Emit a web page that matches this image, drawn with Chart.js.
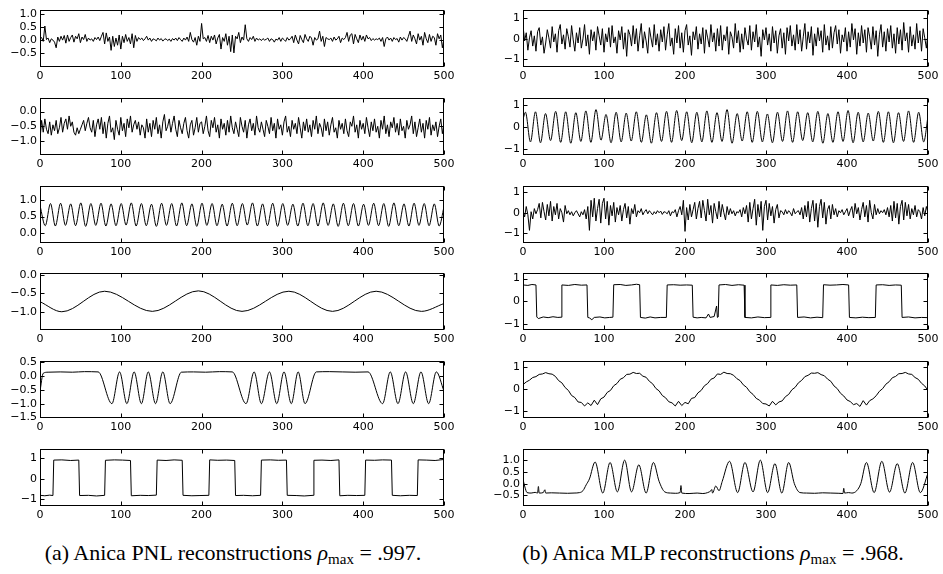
<!DOCTYPE html>
<html><head><meta charset="utf-8">
<script src="https://cdn.jsdelivr.net/npm/chart.js@4.4.1/dist/chart.umd.min.js"></script>
<style>
html,body{margin:0;padding:0;background:#fff;}
body{width:943px;height:574px;overflow:hidden;position:relative;}
canvas{position:absolute;}
.cap{position:absolute;top:540px;font-family:"Liberation Serif","Times New Roman","DejaVu Serif",serif;font-size:22px;white-space:nowrap;color:#000;transform:translateX(-50%);}
.cap sub{font-size:15px;vertical-align:-4px;line-height:0;}
</style></head><body>
<div class="cap" style="left:233px">(a) Anica PNL reconstructions <i>ρ</i><sub>max</sub> = .997.</div>
<div class="cap" style="left:713px">(b) Anica MLP reconstructions <i>ρ</i><sub>max</sub> = .968.</div>
<script>
// ---------- data (x from 0 to 500) ----------
const xTicks = [0, 100, 200, 300, 400, 500];

// Left column (a)
const l1 = [0.05,0.10,-0.05,0.55,0.02,0.08,-0.10,0.05,0.00,-0.08,
-0.30,0.12,-0.05,0.15,0.00,0.18,-0.12,0.20,-0.05,0.10,
0.20,-0.08,0.15,0.05,0.25,-0.10,0.12,0.02,0.22,-0.05,
0.08,0.00,0.05,-0.05,0.10,0.02,0.12,-0.02,0.15,0.30,
-0.15,0.28,-0.05,0.12,-0.40,0.15,-0.25,0.08,-0.20,0.20,
-0.35,0.15,-0.10,0.22,-0.05,0.10,-0.15,0.25,-0.30,0.18,
-0.05,0.10,0.02,0.08,-0.02,0.05,0.15,0.00,0.08,-0.05,
0.05,0.02,-0.03,0.08,0.00,0.06,-0.04,0.03,0.05,-0.02,
0.04,-0.05,0.06,0.00,0.08,-0.02,0.10,0.02,-0.05,0.08,
0.00,0.12,-0.05,0.30,0.02,-0.08,0.10,-0.20,0.15,-0.05,
0.65,0.05,0.10,-0.05,0.18,-0.10,0.15,0.00,0.20,-0.15,
0.08,0.22,-0.35,0.10,-0.05,0.25,-0.20,0.15,-0.45,0.20,
-0.50,0.15,0.05,0.30,-0.10,0.12,0.00,0.60,0.05,-0.05,
0.10,0.02,0.15,-0.05,0.08,0.00,0.05,-0.02,0.06,0.00,
0.03,0.08,-0.05,0.05,0.02,-0.08,0.04,0.00,0.10,-0.05,
0.08,0.02,-0.05,0.10,0.00,0.05,0.15,-0.10,0.20,0.00,
-0.15,0.18,0.02,-0.10,0.22,0.05,-0.05,0.15,0.08,-0.20,
0.10,0.00,0.05,0.35,-0.05,0.15,-0.25,0.10,0.05,0.02,
0.08,-0.05,0.12,0.00,0.05,0.15,-0.10,0.08,0.02,0.10,
0.30,-0.05,0.20,0.25,-0.15,0.22,0.05,-0.10,0.20,0.00,
0.15,-0.05,0.20,0.05,0.10,-0.02,0.06,0.00,0.05,0.02,
0.08,-0.05,0.10,-0.25,0.05,0.12,0.00,0.08,-0.05,0.10,
0.02,0.06,-0.08,0.12,0.00,0.10,0.05,-0.05,0.15,0.35,
-0.05,0.20,0.05,-0.15,0.25,0.00,0.15,-0.20,0.30,0.05,
-0.10,0.22,-0.05,0.15,0.10,-0.20,0.25,0.05,0.20,-0.30,
0.05];

const l2 = [-0.95,-0.30,-0.70,-0.25,-0.60,-0.75,-0.35,-0.80,-0.45,-0.65,
-0.30,-0.75,-0.55,-0.20,-0.70,-0.40,-0.25,-0.60,-0.15,-0.50,
-0.35,-0.70,-0.80,-0.55,-0.75,-0.60,-0.45,-0.30,-0.65,-0.40,
-0.20,-0.55,-0.70,-0.30,-0.85,-0.45,-0.25,-0.60,-0.20,-0.75,
-0.35,-0.90,-0.40,-0.15,-0.70,-0.55,-0.95,-0.30,-0.60,-0.80,
-0.20,-0.65,-0.40,-0.85,-0.25,-0.55,-0.15,-0.70,-0.45,-0.30,
-0.60,-0.35,-0.80,-0.45,-0.55,-0.90,-0.25,-0.70,-0.40,-0.85,
-0.30,-0.60,-0.20,-0.75,-0.45,-0.90,-0.35,-0.10,-0.65,-0.50,
-0.25,-0.70,-0.40,-0.15,-0.60,-0.85,-0.30,-0.55,-0.75,-0.40,
-0.20,-0.65,-0.90,-0.45,-0.30,-0.80,-0.55,-0.20,-0.70,-0.40,
-0.35,-0.75,-0.50,-0.15,-0.65,-0.85,-0.30,-0.55,-0.20,-0.70,
-0.45,-0.90,-0.25,-0.60,-0.40,-0.80,-0.30,-0.70,-0.15,-0.55,
-0.75,-0.35,-0.60,-0.85,-0.20,-0.50,-0.70,-0.30,-0.90,-0.45,
-0.25,-0.65,-0.40,-0.80,-0.15,-0.55,-0.70,-0.35,-0.60,-0.85,
-0.30,-0.50,-0.75,-0.20,-0.65,-0.40,-0.90,-0.25,-0.60,-0.45,
-0.80,-0.35,-0.15,-0.70,-0.50,-0.85,-0.30,-0.60,-0.40,-0.75,
-0.20,-0.55,-0.90,-0.35,-0.65,-0.25,-0.70,-0.45,-0.85,-0.30,
-0.60,-0.15,-0.75,-0.40,-0.55,-0.85,-0.25,-0.65,-0.35,-0.80,
-0.45,-0.20,-0.70,-0.55,-0.90,-0.30,-0.60,-0.40,-0.75,-0.25,
-0.65,-0.85,-0.35,-0.50,-0.15,-0.70,-0.45,-0.90,-0.30,-0.60,
-0.40,-0.75,-0.20,-0.55,-0.85,-0.35,-0.65,-0.25,-0.70,-0.50,
-0.90,-0.30,-0.60,-0.15,-0.75,-0.45,-0.85,-0.35,-0.55,-0.20,
-0.70,-0.40,-0.80,-0.25,-0.65,-0.50,-0.90,-0.30,-0.60,-0.45,
-0.15,-0.75,-0.35,-0.85,-0.55,-0.25,-0.70,-0.40,-0.90,-0.30,
-0.60,-0.20,-0.80,-0.45,-0.65,-0.35,-0.85,-0.50,-0.25,-0.75,
-0.40];

const l3X = [0,6.5,13,19,25.5,31.5,38,44,50.5,56.5,63,69,75.5,81.5,88,94,100.5,106.5,113,119,
125.5,131.5,138,144,150.5,156.5,163,169,175.5,181.5,188,194,200.5,206.5,213,219,225.5,231.5,238,244,
250.5,256.5,263,269,275.5,281.5,288,294,300.5,306.5,313,319,325.5,331.5,338,344,350.5,356.5,363,369,
375.5,381.5,388,394,400.5,406.5,413,419,425.5,431.5,438,444,450.5,456.5,463,469,475.5,481.5,488,494,500];
const l3Y = [0.84,0.22,0.90,0.21,0.91,0.23,0.89,0.22,0.92,0.20,0.90,0.23,0.91,0.21,0.89,0.22,0.90,0.24,0.92,0.21,
0.90,0.22,0.88,0.20,0.91,0.23,0.90,0.21,0.92,0.22,0.89,0.20,0.91,0.23,0.90,0.22,0.88,0.21,0.91,0.22,
0.90,0.24,0.92,0.21,0.89,0.22,0.91,0.20,0.90,0.23,0.88,0.21,0.91,0.22,0.90,0.21,0.92,0.23,0.89,0.20,
0.91,0.22,0.90,0.21,0.88,0.23,0.91,0.22,0.90,0.20,0.92,0.22,0.89,0.21,0.91,0.23,0.90,0.22,0.89,0.21,0.80];

const l4X = [0,27,80,139,196,250,308,362,416,472,500];
const l4Y = [-0.72,-0.99,-0.44,-0.98,-0.43,-0.98,-0.44,-0.98,-0.44,-0.98,-0.77];

const l5X = [0,4,10,25,40,55,72,89,98.5,107.5,116.5,125.5,134,143,152,161,175,190,205,222,238,
255,265,274,284,293,302,311,319.5,328,342,358,374,390,406,424,433.5,443,452.5,462,471.5,481,490.5,500];
const l5Y = [-0.55,0.10,0.14,0.15,0.14,0.16,0.15,-1.00,0.15,-1.00,0.15,-1.00,0.15,-1.00,0.15,-1.00,0.14,0.15,0.14,0.16,0.15,
-1.00,0.15,-1.00,0.15,-1.00,0.15,-1.00,0.15,-1.00,0.15,0.16,0.15,0.14,0.15,-1.00,0.15,-1.00,0.15,-1.00,0.15,-1.00,0.15,-0.55];

const l6X = [0,6,12,16, 17,27,38,48, 49,60,70,80, 81,92,102,112, 113,124,134,144, 145,156,166,176, 177,188,198,209, 210,220,231,241,
242,252,263,273, 274,285,295,305, 306,317,327,338, 339,349,360,370, 371,381,392,402, 403,414,424,435, 436,446,457,467, 468,478,489,500];
const l6Y = [-0.80,-0.82,-0.79,-0.81, 0.92,0.93,0.90,0.92, -0.81,-0.80,-0.83,-0.80, 0.91,0.93,0.92,0.90, -0.82,-0.80,-0.81,-0.79, 0.92,0.90,0.93,0.91, -0.80,-0.82,-0.81,-0.80, 0.93,0.91,0.92,0.90,
-0.81,-0.80,-0.82,-0.80, 0.92,0.93,0.91,0.92, -0.80,-0.81,-0.83,-0.80, 0.91,0.92,0.90,0.93, -0.82,-0.80,-0.81,-0.80, 0.92,0.91,0.93,0.92, -0.80,-0.82,-0.80,-0.81, 0.93,0.92,0.90,0.95];

// Right column (b)
const r1 = [0.65,-0.10,0.30,-0.55,0.05,0.40,-0.35,0.15,-0.60,0.35,
0.55,-0.30,0.10,-0.70,-0.20,0.45,0.05,-0.45,0.60,-0.15,
0.25,-0.65,0.40,0.70,-0.25,0.20,-0.50,0.50,0.10,-0.40,
0.65,-0.05,-0.60,0.30,-0.20,0.55,-0.45,0.00,0.70,-0.35,
0.20,-0.75,0.45,-0.10,0.35,-0.55,0.60,0.15,-0.30,0.50,
-0.65,0.25,-0.15,0.55,-0.40,0.65,-0.20,0.10,-0.70,0.40,
-0.05,0.60,-0.50,0.30,-0.85,0.45,0.20,-0.35,0.65,-0.25,
0.50,-0.60,0.15,0.75,-0.45,0.35,-0.10,-0.70,0.55,0.05,
-0.40,0.70,-0.30,0.25,-0.60,0.45,-0.15,0.60,-0.55,0.20,
0.75,-0.35,0.05,-0.75,0.50,-0.20,0.65,-0.45,0.30,-0.65,
0.40,0.70,-0.30,0.15,-0.80,0.35,-0.05,0.60,-0.50,0.25,
-0.25,0.55,-0.70,0.45,0.05,-0.40,0.70,-0.15,0.30,-0.60,
0.50,-0.35,0.65,-0.55,0.20,-0.10,0.60,-0.75,0.35,0.10,
-0.45,0.75,-0.20,0.40,-0.65,0.25,-0.50,0.55,0.00,-0.30,
0.65,-0.55,0.35,-0.15,0.70,-0.40,0.10,-0.85,0.45,-0.05,
0.55,-0.30,0.25,-0.60,0.60,-0.20,0.40,-0.70,0.15,0.50,
-0.45,0.30,-0.75,0.55,-0.10,0.65,-0.35,0.20,-0.55,0.70,
-0.25,0.45,-0.60,0.10,0.75,-0.50,0.35,-0.20,0.60,-0.80,
0.25,-0.35,0.55,-0.10,0.40,-0.65,0.70,-0.30,0.15,-0.55,
0.60,-0.45,0.30,0.65,-0.25,0.45,-0.70,0.20,-0.15,0.55,
-0.60,0.35,-0.40,0.75,-0.05,0.50,-0.75,0.30,-0.35,0.65,
-0.20,0.45,-0.65,0.55,0.10,-0.50,0.60,-0.30,0.40,-0.85,
0.20,0.70,-0.40,0.35,-0.60,0.50,-0.15,0.65,-0.45,0.25,
-0.70,0.55,-0.25,0.45,-0.55,0.80,-0.10,0.30,-0.65,0.60,
-0.35,0.20,-0.50,0.75,-0.20,0.40,-0.60,0.50,0.05,-0.45,
0.30];

const r2X = [0,3,9.2,15.4,21.6,27.8,34,40.3,46.5,52.7,59,65.2,71.4,77.6,83.8,90.1,96.3,102.5,108.7,115,121.2,
127.4,133.6,139.9,146.1,152.3,158.5,164.8,171,177.2,183.4,189.7,195.9,202.1,208.3,214.6,220.8,227,233.2,239.5,245.7,
251.9,258.1,264.4,270.6,276.8,283,289.3,295.5,301.7,307.9,314.2,320.4,326.6,332.8,339.1,345.3,351.5,357.7,364,370.2,
376.4,382.6,388.9,395.1,401.3,407.5,413.8,420,426.2,432.4,438.7,444.9,451.1,457.3,463.6,469.8,476,482.2,488.5,494.7,500];
const r2Y = [0.35,0.68,-0.68,0.70,-0.72,0.62,-0.62,0.72,-0.70,0.70,-0.74,0.66,-0.66,0.74,-0.70,0.80,-0.60,0.58,-0.72,0.68,-0.68,
0.64,-0.64,0.70,-0.70,0.56,-0.74,0.66,-0.66,0.72,-0.70,0.76,-0.62,0.70,-0.72,0.68,-0.68,0.74,-0.70,0.66,-0.66,
0.80,-0.74,0.62,-0.64,0.70,-0.70,0.72,-0.68,0.60,-0.72,0.68,-0.66,0.74,-0.70,0.70,-0.62,0.66,-0.68,0.72,-0.74,
0.62,-0.70,0.70,-0.66,0.76,-0.72,0.68,-0.68,0.64,-0.64,0.72,-0.70,0.70,-0.72,0.66,-0.66,0.74,-0.70,0.68,-0.68,0.50];

const r3 = [0.10,-0.20,0.30,-0.10,-0.85,0.05,-0.30,0.20,-0.05,0.15,
0.45,-0.25,0.50,0.05,-0.35,0.40,-0.15,0.55,-0.40,0.30,
-0.10,0.45,-0.30,0.20,0.00,-0.45,0.35,-0.05,0.10,-0.10,
0.05,-0.15,0.00,0.10,-0.05,-0.20,0.05,-0.10,0.15,-0.30,
0.30,-0.85,0.60,-0.20,0.70,-0.40,0.20,0.65,-0.50,0.45,
0.70,-0.30,0.55,-0.60,0.35,-0.15,0.50,-0.45,0.25,-0.10,
0.35,-0.40,0.15,0.45,-0.25,0.30,-0.55,0.20,-0.05,0.40,
-0.20,0.10,0.00,0.20,-0.10,0.05,0.15,-0.05,0.10,0.00,
-0.10,0.05,-0.05,0.10,0.00,0.08,-0.08,0.05,0.02,-0.05,
0.10,-0.15,0.05,0.00,0.15,-0.20,0.10,0.30,-0.10,0.60,
-0.90,0.25,-0.35,0.40,-0.20,0.15,0.50,-0.30,0.20,0.55,
-0.25,0.60,0.10,-0.40,0.65,-0.10,0.35,-0.50,0.45,0.05,
-0.30,0.55,-0.20,0.40,0.00,-0.35,0.30,-0.10,0.20,-0.05,
0.10,-0.15,0.05,0.00,0.15,-0.20,0.25,-0.05,0.35,-0.45,
0.50,-0.30,0.20,0.65,-0.60,0.40,-0.20,0.55,-0.85,0.30,
0.60,-0.35,0.45,-0.15,0.30,-0.50,0.15,0.40,-0.25,0.10,
0.05,-0.10,0.15,-0.05,0.10,0.00,-0.15,0.20,-0.05,0.05,
0.10,-0.10,0.25,-0.30,0.35,-0.20,0.55,-0.45,0.20,0.60,
-0.40,0.45,-0.70,0.30,0.65,-0.25,0.50,-0.55,0.15,0.35,
-0.30,0.40,-0.10,0.20,-0.20,0.10,0.00,0.15,-0.10,0.05,
0.20,-0.15,0.10,0.30,-0.25,0.45,-0.05,0.25,-0.35,0.15,
0.50,-0.20,0.35,-0.45,0.60,0.00,-0.30,0.40,-0.10,0.20,
-0.05,0.10,0.00,0.15,-0.10,0.25,-0.20,0.35,-0.40,0.55,
-0.25,0.45,-0.55,0.30,0.60,-0.35,0.50,-0.15,0.40,-0.30,
0.20,-0.10,0.35,-0.20,0.15,0.05,-0.30,0.25,-0.15,0.30,
0.00];

const r4X = [0,6,11,16, 17,19,25,31,37,43,47, 48,56,64,72,79, 80,82,85,88,95,101,107,111, 112,120,127,134,140,144,
145,151,157,163,170,177, 178,186,194,202,209, 210,215,220,226,229,231,236,239,240,241, 242,250,258,266,273,
274,282,290,298,305, 306,314,322,330,338, 339,347,355,363,370, 371,379,387,395,402, 403,411,419,427,435,
436,444,452,460,467, 468,476,484,492,500];
const r4Y = [0.72,0.70,0.74,0.72, -0.68,-0.75,-0.68,-0.71,-0.67,-0.70,-0.69, 0.72,0.70,0.74,0.71,0.72, -0.70,-0.72,-0.80,-0.70,-0.68,-0.72,-0.70,-0.69, 0.73,0.74,0.70,0.72,0.75,0.73,
-0.70,-0.73,-0.68,-0.72,-0.70,-0.70, 0.72,0.73,0.71,0.72,0.71, -0.69,-0.72,-0.70,-0.72,-0.55,-0.70,-0.66,-0.20,-0.70,-0.68, 0.72,0.74,0.70,0.73,0.71,
-0.70,-0.72,-0.68,-0.71,-0.70, 0.72,0.70,0.73,0.71,0.72, -0.70,-0.68,-0.72,-0.69,-0.71, 0.73,0.71,0.72,0.74,0.72, -0.70,-0.72,-0.69,-0.71,-0.70,
0.72,0.73,0.70,0.72,0.71, -0.70,-0.68,-0.72,-0.70,-0.71];

const r5 = [0.20,0.32,0.40,0.52,0.56,0.66,0.68,0.74,0.69,0.67,
0.57,0.38,0.28,0.07,-0.06,-0.29,-0.38,-0.58,-0.60,-0.76,
-0.62,-0.74,-0.50,-0.70,-0.44,-0.36,-0.15,-0.06,0.15,0.25,
0.44,0.51,0.66,0.67,0.75,0.70,0.71,0.58,0.53,0.35,
0.24,0.03,-0.08,-0.29,-0.39,-0.57,-0.62,-0.76,-0.55,-0.74,
-0.60,-0.66,-0.42,-0.38,-0.17,-0.06,0.15,0.25,0.44,0.50,
0.68,0.66,0.76,0.70,0.69,0.62,0.47,0.38,0.19,0.08,
-0.12,-0.24,-0.42,-0.50,-0.65,-0.67,-0.76,-0.55,-0.71,-0.58,
-0.53,-0.34,-0.24,-0.03,0.08,0.28,0.39,0.56,0.62,0.72,
0.71,0.74,0.65,0.60,0.45,0.35,0.14,0.02,-0.19,-0.31,
-0.49,-0.56,-0.70,-0.65,-0.78,-0.52,-0.72,-0.52,-0.44,-0.30,
-0.10,0.02,0.22,0.33,0.51,0.57,0.69,0.70,0.75,0.68,
0.66,0.52,0.44,0.26,0.14,-0.06];

const r6X = [0,2,5,10,15,18,19,20,25,27,28,35,45,55,63,70,74,78,82,89,98.5,107.5,116.5,125.5,134,143,152,161,168,175,
182,188,194,195,196,205,215,222,228,232,233,234,238,242,246,255,265,274,284,293,302,311,319.5,328,335,342,350,360,370,380,
390,395,396,397,402,406,412,417,424,433.5,443,452.5,462,471.5,481,490.5,500];
const r6Y = [0.20,-0.10,-0.38,-0.40,-0.37,-0.40,-0.12,-0.40,-0.38,-0.26,-0.40,-0.39,-0.40,-0.41,-0.40,-0.38,-0.30,-0.05,0.20,0.92,
-0.40,0.90,-0.35,1.00,-0.35,0.80,-0.40,0.90,0.10,-0.35,-0.40,-0.41,-0.38,-0.08,-0.40,-0.42,-0.40,-0.42,-0.38,-0.30,
-0.25,-0.40,-0.10,-0.30,0.10,0.95,-0.38,0.90,-0.35,1.00,-0.38,0.85,-0.40,0.90,0.00,-0.38,-0.40,-0.41,-0.39,-0.40,
-0.41,-0.42,-0.20,-0.40,-0.38,-0.40,-0.30,0.00,0.90,-0.38,0.95,-0.36,0.85,-0.40,0.90,-0.38,0.45];

// y-axis ticks per panel
const yTicksL = [[-0.5,0,0.5,1.0],[-1.0,-0.5,0.0],[0.0,0.5,1.0],[-1.0,-0.5,0.0],[-1.5,-1.0,-0.5,0.0,0.5],[-1,0,1]];
const yTicksR = [[-1,0,1],[-1,0,1],[-1,0,1],[-1,0,1],[-1,0,1],[-0.5,0.0,0.5,1.0]];

// ---------- layout / drawing ----------
const ROW_TOP = [8, 96, 184, 271, 359, 447];
const PLOT_H = 59;
const COLS = [{canvasLeft:0, plotLeft:40, plotRight:444}, {canvasLeft:483, plotLeft:523, plotRight:928}];
const CW = 460, PAD_TOP = 8, XAX_H = 22;

function stepSeries(arr){ const n = arr.length; return arr.map((v,i)=>({x: i*500/(n-1), y: v})); }
function xySeries(xs, ys){ return xs.map((x,i)=>({x: x, y: ys[i]})); }
function minusFmt(dec){ return v => (v < 0 ? '\u2212' : '') + Math.abs(v).toFixed(dec); }

const framePlugin = {
  id: 'frame',
  afterDraw(chart){
    const {ctx, chartArea: a, scales: {x, y}} = chart;
    ctx.save();
    ctx.strokeStyle = '#000';
    ctx.lineWidth = 1;
    const L = Math.round(a.left)+0.5, R = Math.round(a.right)-0.5, T = Math.round(a.top)+0.5, B = Math.round(a.bottom)-0.5;
    ctx.strokeRect(L, T, R-L, B-T);
    ctx.beginPath();
    for (const t of x.ticks){
      const px = Math.round(x.getPixelForValue(t.value))+0.5;
      ctx.moveTo(px, B); ctx.lineTo(px, B-4);
      ctx.moveTo(px, T); ctx.lineTo(px, T+4);
    }
    for (const t of y.ticks){
      const py = Math.round(y.getPixelForValue(t.value))+0.5;
      ctx.moveTo(L, py); ctx.lineTo(L+4, py);
      ctx.moveTo(R, py); ctx.lineTo(R-4, py);
    }
    ctx.stroke();
    ctx.restore();
  }
};

function panel(col, row, points, ymin, ymax, yt, dec, smooth){
  const c = COLS[col];
  const cv = document.createElement('canvas');
  const H = PAD_TOP + PLOT_H + XAX_H;
  cv.width = CW; cv.height = H;
  cv.style.left = c.canvasLeft + 'px';
  cv.style.top = (ROW_TOP[row] - PAD_TOP) + 'px';
  cv.style.width = CW + 'px'; cv.style.height = H + 'px';
  document.body.appendChild(cv);
  new Chart(cv, {
    type: 'line',
    data: { datasets: [{ data: points, borderColor: '#000', borderWidth: 1, pointRadius: 0,
      tension: smooth ? 0.4 : 0, cubicInterpolationMode: smooth ? 'monotone' : 'default', fill: false }] },
    options: {
      responsive: false, animation: false, devicePixelRatio: 1,
      layout: { padding: { top: PAD_TOP, left: 0, bottom: 0, right: CW - (c.plotRight - c.canvasLeft) } },
      plugins: { legend: { display: false }, tooltip: { enabled: false } },
      scales: {
        x: { type: 'linear', min: 0, max: 500,
             afterBuildTicks: s => { s.ticks = xTicks.map(v => ({value: v})); },
             afterFit: s => { s.height = XAX_H; },
             grid: { display: false, drawTicks: false }, border: { display: false },
             ticks: { color: '#000', padding: 3, maxRotation: 0, autoSkip: false,
                      font: { family: 'DejaVu Sans', size: 11 }, callback: v => String(v) } },
        y: { type: 'linear', min: ymin, max: ymax,
             afterBuildTicks: s => { s.ticks = yt.map(v => ({value: v})); },
             afterFit: s => { s.width = c.plotLeft - c.canvasLeft; },
             grid: { display: false, drawTicks: false }, border: { display: false },
             ticks: { color: '#000', padding: 3, autoSkip: false,
                      font: { family: 'DejaVu Sans', size: 11 }, callback: minusFmt(dec) } }
      }
    },
    plugins: [framePlugin]
  });
}

// left column
panel(0, 0, stepSeries(l1), -1.05, 1.19, yTicksL[0], 1, false);
panel(0, 1, stepSeries(l2), -1.47, 0.47, yTicksL[1], 1, false);
panel(0, 2, xySeries(l3X, l3Y), -0.31, 1.45, yTicksL[2], 1, true);
panel(0, 3, xySeries(l4X, l4Y), -1.48, 0.06, yTicksL[3], 1, true);
panel(0, 4, xySeries(l5X, l5Y), -1.52, 0.56, yTicksL[4], 1, true);
panel(0, 5, xySeries(l6X, l6Y), -1.32, 1.48, yTicksL[5], 0, false);
// right column
panel(1, 0, stepSeries(r1), -1.37, 1.43, yTicksR[0], 0, false);
panel(1, 1, xySeries(r2X, r2Y), -1.28, 1.35, yTicksR[1], 0, true);
panel(1, 2, stepSeries(r3), -1.46, 1.31, yTicksR[2], 0, false);
panel(1, 3, xySeries(r4X, r4Y), -1.25, 1.26, yTicksR[3], 0, false);
panel(1, 4, stepSeries(r5), -1.30, 1.28, yTicksR[4], 0, false);
panel(1, 5, xySeries(r6X, r6Y), -0.95, 1.49, yTicksR[5], 1, true);
</script>
</body></html>
